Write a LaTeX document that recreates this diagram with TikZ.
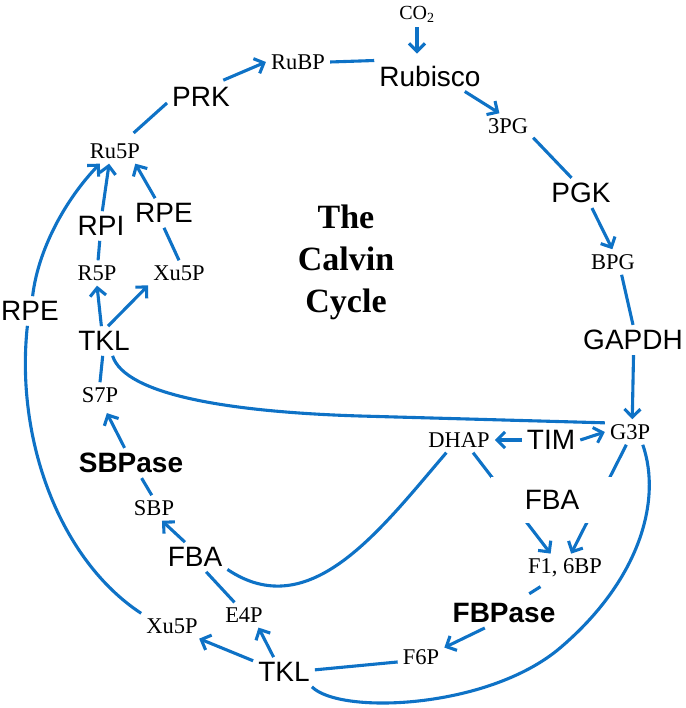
\documentclass[tikz,border=0pt]{standalone}
\usepackage{fontspec}
\setmainfont{Liberation Serif}
\setsansfont{Liberation Sans}
\usetikzlibrary{arrows.meta}
\definecolor{cycleblue}{RGB}{14,114,198}
\begin{document}
\begin{tikzpicture}[x=1pt, y=-1pt,
  enz/.style={font=\fontsize{28}{30}\selectfont\sffamily, inner sep=5pt},
  enzb/.style={enz, font=\fontsize{28}{30}\selectfont\sffamily\bfseries},
  met/.style={font=\fontsize{22.5}{24}\selectfont, inner sep=5pt},
  flow/.style={draw=cycleblue, line width=3.1pt},
  arr/.style={flow, -{Straight Barb[length=8pt, width=16pt]}}]
\useasboundingbox (0,0) rectangle (685,708);
\node[met, font=\fontsize{20}{22}\selectfont] (co2) at (417,14){CO\textsubscript{2}};
\node[enz] (rubisco) at (430,76){Rubisco};
\node[met] (rubp) at (298,62){RuBP};
\node[enz] (prk) at (201,97){PRK};
\node[met] (ru5p) at (115,151){Ru5P};
\node[enz] (rpi) at (101,226){RPI};
\node[enz] (rpe1) at (164,213){RPE};
\node[met] (r5p) at (97,273){R5P};
\node[met] (xu5p1) at (179,273){Xu5P};
\node[enz] (tkl1) at (104,341){TKL};
\node[enz] (rpe2) at (30,311){RPE};
\node[met] (s7p) at (100,395){S7P};
\node[enzb] (sbpase) at (131,463){SBPase};
\node[met] (sbp) at (154,508){SBP};
\node[enz] (fba1) at (195,557){FBA};
\node[met] (e4p) at (244,615){E4P};
\node[met] (xu5p2) at (172,626){Xu5P};
\node[enz] (tkl2) at (284,672){TKL};
\node[met] (f6p) at (421,657){F6P};
\node[enzb] (fbpase) at (504,613){FBPase};
\node[met] (f16bp) at (565,568){F1, 6BP};
\node[met] (dhap) at (459,440){DHAP};
\node[enz] (tim) at (551,440){TIM};
\node[met] (g3p) at (630,432){G3P};
\node[enz] (gapdh) at (633,340){GAPDH};
\node[met] (bpg) at (613,262){BPG};
\node[enz] (pgk) at (581,193){PGK};
\node[met] (pg3) at (508,126){3PG};
\node[font=\fontsize{34}{42}\selectfont\bfseries, align=center] (title) at (346,262){The\\Calvin\\Cycle};
\draw[arr, shorten >=7pt] (co2.south) -- (co2.south |- rubisco.north);
\draw[flow] (rubp.east) -- (rubisco.north west);
\draw[arr] (rubisco.-24) -- (pg3.124);
\draw[flow] (pg3.-25) -- (pgk.122);
\draw[arr] (pgk.-54) -- (bpg.93);
\draw[flow] (bpg.-56) -- (gapdh.90);
\draw[arr] (gapdh.-88) -- (g3p.80);
\draw[arr] (tim.west) -- (dhap.east);
\draw[arr] (tim.east) -- (g3p.west);
\draw[flow] (tkl1.-60) .. controls (125,395) and (230,412) .. (360,416) -- (g3p.160);
\draw[arr] (dhap.-42) -- (f16bp.135);
\draw[arr] (g3p.-106) -- (f16bp.67);
\node[enz, fill=white, inner xsep=34pt, inner ysep=13pt] (fba2) at (552,500){FBA};
\draw[flow, shorten <=8pt, shorten >=8pt] (f16bp.-141) -- (fbpase.39);
\draw[arr] (fbpase.-142) -- (f6p.22);
\draw[flow] (f6p.-168) -- (tkl2.4);
\draw[flow] (g3p.-45) .. controls (662,500) and (640,580) .. (560,648) .. controls (488,709) and (340,715) .. (tkl2.-28);
\draw[flow] (dhap.-135) .. controls (380,530) and (310,625) .. (fba1.-21);
\draw[arr] (fba1.124) -- (sbp.-58);
\draw[flow] (fba1.-53) -- (e4p.127);
\draw[arr] (tkl2.125) -- (e4p.-41);
\draw[arr] (tkl2.160) -- (xu5p2.-25);
\draw[flow] (xu5p2.north west) .. controls (60,560) and (15,440) .. (rpe2.-100);
\draw[arr] (rpe2.80) .. controls (38,250) and (65,200) .. (ru5p.-140);
\draw[arr] (tkl1.100) -- (r5p.south);
\draw[arr] (tkl1.75) -- (xu5p1.-158);
\draw[flow] (r5p) -- (rpi);
\draw[arr] (rpi.85) -- (ru5p.-115);
\draw[flow] (xu5p1.north) -- (rpe1.south);
\draw[arr] (rpe1.121) -- (ru5p.-32);
\draw[flow, shorten <=8pt] (ru5p.45) -- (prk.-170);
\draw[arr, shorten <=5pt] (prk.40) -- (rubp.west);
\draw[flow] (tkl1.-95) -- (s7p.north);
\draw[arr, shorten >=6pt] (sbpase.113) -- (s7p.-72);
\draw[flow] (sbp.100) -- (sbpase.-55);
\end{tikzpicture}
\end{document}
